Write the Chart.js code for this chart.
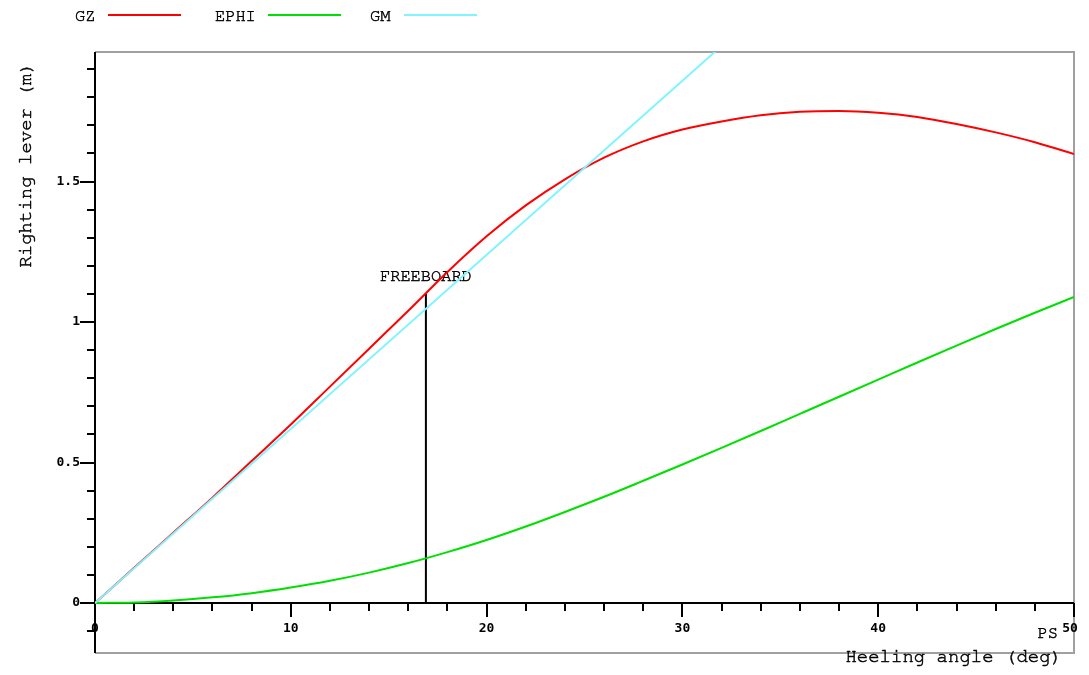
<!DOCTYPE html>
<html>
<head>
<meta charset="utf-8">
<script src="https://cdn.jsdelivr.net/npm/chart.js@4"></script>
<style>
  body { margin: 0; background: #fff; }
  #wrap { width: 1089px; height: 675px; }
</style>
</head>
<body>
<div id="wrap"><canvas id="stabChart" width="1089" height="675"></canvas></div>
<script>
// heel angles (deg) and the stability curves read at each one
var angles = [0, 2, 4, 6, 8, 10, 12, 14, 16, 18, 20, 22, 24, 26, 28, 30, 32, 34, 36, 38, 40, 42, 44, 46, 48, 50];
var gzValues = [0, 0.125, 0.25, 0.375, 0.505, 0.635, 0.77, 0.905, 1.04, 1.178, 1.305, 1.415, 1.508, 1.585, 1.643, 1.685, 1.714, 1.736, 1.748, 1.751, 1.745, 1.73, 1.705, 1.675, 1.64, 1.598];
var ephiValues = [0, 0.002, 0.009, 0.02, 0.035, 0.055, 0.079, 0.108, 0.142, 0.181, 0.224, 0.272, 0.324, 0.378, 0.435, 0.493, 0.552, 0.612, 0.673, 0.734, 0.795, 0.856, 0.916, 0.975, 1.033, 1.089];
// GM line: from the origin to GM at one radian
var gmAngles = [0, 57.3];
var gmValues = [0, 3.55];
var freeboardAngle = 16.9;
var freeboardGz = 1.10;

var xTicks = [0, 10, 20, 30, 40, 50];
var yTicks = [0, 0.5, 1, 1.5];

function pts(xs, ys) {
  var out = [];
  for (var i in xs) out.push({x: xs[i], y: ys[i]});
  return out;
}

var MONO = '"Nimbus Mono PS", "FreeMono", "Courier New", "Liberation Mono", monospace';
var TICKFONT = 'bold 13px "DejaVu Sans Mono", monospace';

// courier text with a hairline stroke so it reads a bit darker
function monoText(ctx, s, x, y) {
  ctx.fillText(s, x, y);
  ctx.lineWidth = 0.5;
  ctx.strokeStyle = '#000';
  ctx.strokeText(s, x, y);
}

var axesPlugin = {
  id: 'stabAxes',
  beforeDatasetsDraw: function(chart) {
    var ctx = chart.ctx, a = chart.chartArea;
    var xs = chart.scales.x, ys = chart.scales.y;
    var y0 = ys.getPixelForValue(0);
    ctx.save();
    // grey frame
    ctx.strokeStyle = '#a0a0a0';
    ctx.lineWidth = 2;
    ctx.beginPath();
    ctx.moveTo(a.left, a.top);
    ctx.lineTo(a.right, a.top);
    ctx.lineTo(a.right, a.bottom);
    ctx.lineTo(a.left, a.bottom);
    ctx.stroke();

    ctx.strokeStyle = '#000';
    ctx.lineWidth = 2;
    // y axis with ticks every 0.1
    ctx.beginPath();
    ctx.moveTo(a.left, a.top);
    ctx.lineTo(a.left, a.bottom);
    for (var v = -1; v <= 19; v++) {
      var py = Math.round(ys.getPixelForValue(v / 10));
      var len = (v % 5 === 0) ? 15 : 8;
      ctx.moveTo(a.left - len, py);
      ctx.lineTo(a.left, py);
    }
    // x axis at zero with ticks every 2 deg
    ctx.moveTo(a.left, y0);
    ctx.lineTo(a.right, y0);
    for (var d = 2; d <= 50; d += 2) {
      var px = Math.round(xs.getPixelForValue(d));
      var l2 = (d % 10 === 0) ? 14 : 8;
      ctx.moveTo(px, y0);
      ctx.lineTo(px, y0 + l2);
    }
    ctx.stroke();

    // tick labels
    ctx.fillStyle = '#000';
    ctx.font = TICKFONT;
    ctx.textBaseline = 'middle';
    ctx.textAlign = 'right';
    for (var i in yTicks) {
      ctx.fillText(String(yTicks[i]), a.left - 15, ys.getPixelForValue(yTicks[i]));
    }
    ctx.textAlign = 'center';
    for (var j in xTicks) {
      var tx = xs.getPixelForValue(xTicks[j]);
      if (xTicks[j] === 50) tx -= 4;
      ctx.fillText(String(xTicks[j]), tx, y0 + 26);
    }

    // axis titles
    ctx.font = '19px ' + MONO;
    ctx.textAlign = 'right';
    monoText(ctx, 'Heeling angle (deg)', a.right - 12, a.bottom + 3);
    ctx.font = '17px ' + MONO;
    monoText(ctx, 'PS', a.right - 16, y0 + 30);
    ctx.save();
    ctx.translate(25, 165);
    ctx.rotate(-Math.PI / 2);
    ctx.textAlign = 'center';
    ctx.font = '19px ' + MONO;
    monoText(ctx, 'Righting lever (m)', 0, 0);
    ctx.restore();

    // freeboard label
    ctx.font = '17px ' + MONO;
    ctx.textAlign = 'center';
    monoText(ctx, 'FREEBOARD', xs.getPixelForValue(freeboardAngle), ys.getPixelForValue(freeboardGz) - 18);

    // legend: name followed by a line sample
    var items = [
      {t: 'GZ', c: '#ff0000', tx: 75, lx: 108},
      {t: 'EPHI', c: '#00e000', tx: 215, lx: 268},
      {t: 'GM', c: '#80f4ff', tx: 370, lx: 404}
    ];
    ctx.textAlign = 'left';
    for (var k in items) {
      ctx.fillStyle = '#000';
      monoText(ctx, items[k].t, items[k].tx, 16);
      ctx.strokeStyle = items[k].c;
      ctx.lineWidth = 2;
      ctx.beginPath();
      ctx.moveTo(items[k].lx, 15);
      ctx.lineTo(items[k].lx + 73, 15);
      ctx.stroke();
    }
    ctx.restore();
  }
};

const stab = document.getElementById('stabChart');

let stabChart = new Chart(stab, {
  type: 'line',
  data: {
    datasets: [
      {
        label: 'GM',
        data: pts(gmAngles, gmValues),
        borderColor: '#80f4ff',
        borderWidth: 2,
        pointRadius: 0,
        tension: 0
      },
      {
        label: 'EPHI',
        data: pts(angles, ephiValues),
        borderColor: '#00e000',
        borderWidth: 2,
        pointRadius: 0,
        cubicInterpolationMode: 'monotone'
      },
      {
        label: 'GZ',
        data: pts(angles, gzValues),
        borderColor: '#ff0000',
        borderWidth: 2,
        pointRadius: 0,
        cubicInterpolationMode: 'monotone'
      },
      {
        label: 'FREEBOARD',
        data: pts([freeboardAngle, freeboardAngle], [0, freeboardGz]),
        borderColor: '#000',
        borderWidth: 2,
        pointRadius: 0,
        tension: 0
      }
    ]
  },
  options: {
    responsive: false,
    animation: false,
    events: [],
    layout: { padding: { left: 95, right: 15, top: 52, bottom: 22 } },
    plugins: { legend: { display: false }, tooltip: { enabled: false } },
    scales: {
      x: { type: 'linear', min: 0, max: 50, display: false },
      y: { type: 'linear', min: -0.178, max: 1.961, display: false }
    }
  },
  plugins: [axesPlugin]
});
</script>
</body>
</html>
